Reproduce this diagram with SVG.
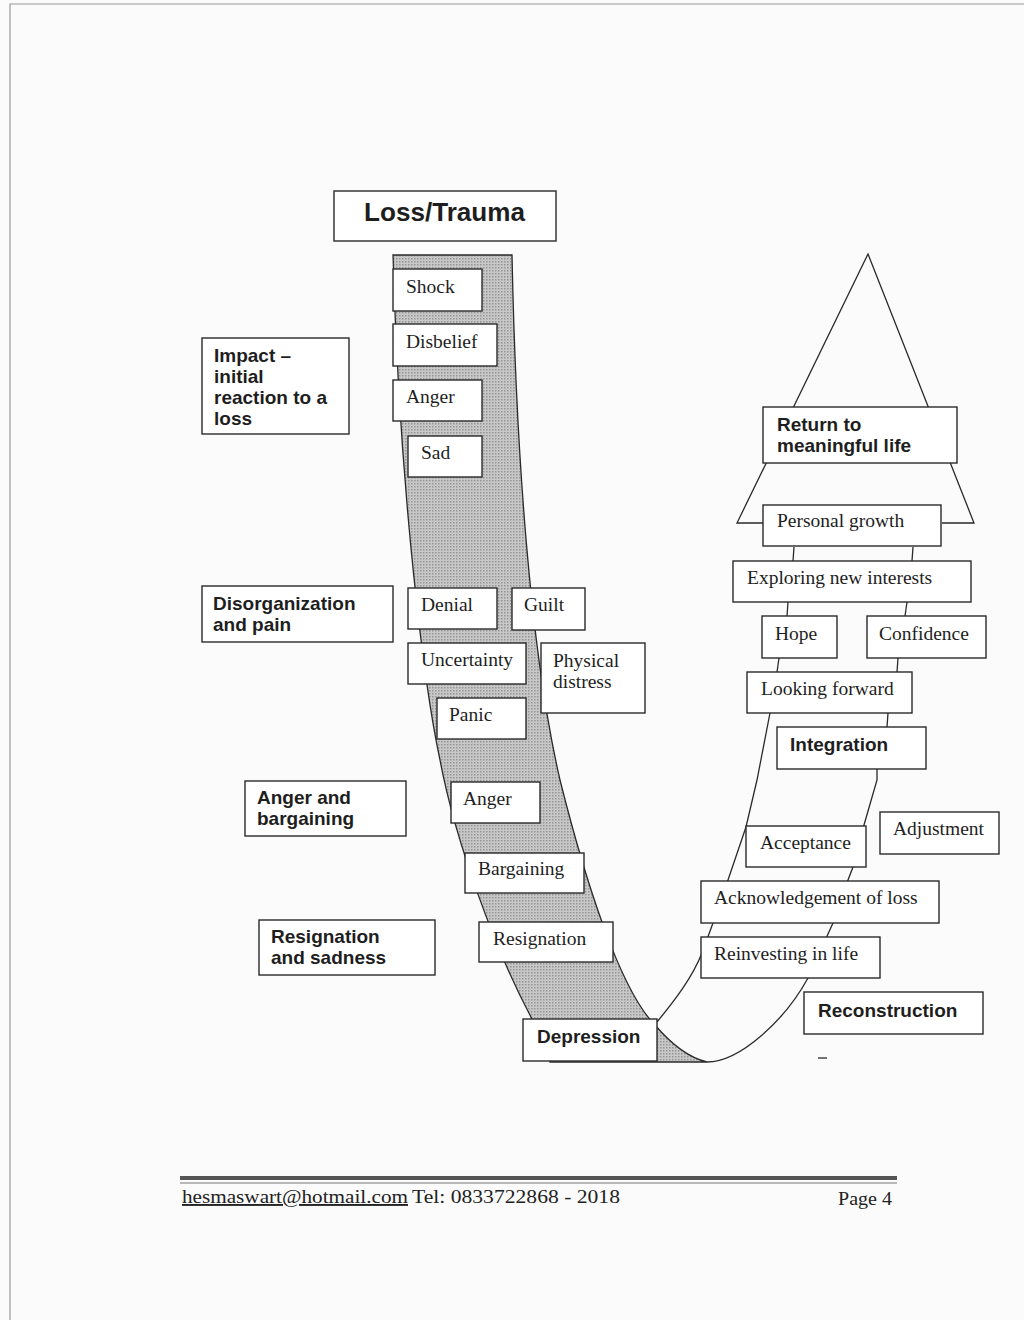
<svg xmlns="http://www.w3.org/2000/svg" width="1024" height="1320" viewBox="0 0 1024 1320">
<style>
.bx{fill:#fff;stroke:#2a2a2a;stroke-width:1.4}
.ln{fill:none;stroke:#2a2a2a;stroke-width:1.3}
.sr{font-family:"Liberation Serif","Times New Roman",serif;font-size:19.5px;fill:#1e1e1e}
.sb{font-family:"Liberation Sans",Arial,sans-serif;font-size:19px;font-weight:bold;fill:#1e1e1e}
.ft{font-family:"Liberation Serif","Times New Roman",serif;font-size:19px;fill:#222}
</style>
<defs>
<pattern id="dots" width="3" height="3" patternUnits="userSpaceOnUse">
<rect width="3" height="3" fill="#c8c8c8"/>
<rect width="1.5" height="1.5" fill="#949494"/>
</pattern>
</defs>
<rect width="1024" height="1320" fill="#fbfbfb"/>
<path d="M10,1320 L10,4 L1024,4" fill="none" stroke="#999" stroke-width="1.2"/>

<g id="connectors">
<path id="band" d="M393,255 L512,255 C516,450 530,650 560,780 C585,880 620,990 655,1025 C672,1045 690,1058 707,1062 L550,1062 L532,1019 C495,950 455,840 440,760 C425,690 400,500 393,255 Z" fill="url(#dots)" stroke="#2a2a2a" stroke-width="1.3"/>
<path class="ln" d="M657,1022 C675,1000 692,978 702,953 L713,923 L728,880 L746,827 L757,780 L770,713 L777,672 L779,658 L787,616 L788,602 L793,561 L794,547"/>
<path class="ln" d="M707,1062 C740,1062 785,1020 808,978 L833,923 L848,880 L853,867 L864,825 L877,780 L877,769 L887,727 L888,713 L897,672 L898,658 L905,616 L907,602 L912,561 L913,547"/>
<path class="ln" d="M763,523 L737,523 L868,254 L974,523 L942,523"/>
<line x1="818" y1="1058" x2="827" y2="1058" stroke="#444" stroke-width="1.5"/>
</g>

<g id="loss-trauma"><rect class="bx" x="334" y="191" width="222" height="50"/><text class="sb" x="364" y="221" style="font-size:25px" textLength="161" lengthAdjust="spacingAndGlyphs">Loss/Trauma</text></g>
<g id="impact"><rect class="bx" x="202" y="338" width="147" height="96"/><text class="sb" x="214" y="362">Impact –</text><text class="sb" x="214" y="383">initial</text><text class="sb" x="214" y="404">reaction to a</text><text class="sb" x="214" y="425">loss</text></g>
<g id="disorganization"><rect class="bx" x="202" y="586" width="191" height="56"/><text class="sb" x="213" y="610">Disorganization</text><text class="sb" x="213" y="631">and pain</text></g>
<g id="anger-bargaining"><rect class="bx" x="245" y="781" width="161" height="55"/><text class="sb" x="257" y="804">Anger and</text><text class="sb" x="257" y="825">bargaining</text></g>
<g id="resignation-sadness"><rect class="bx" x="259" y="920" width="176" height="55"/><text class="sb" x="271" y="943">Resignation</text><text class="sb" x="271" y="964">and sadness</text></g>

<g id="shock"><rect class="bx" x="393" y="269" width="89" height="42"/><text class="sr" x="406" y="293">Shock</text></g>
<g id="disbelief"><rect class="bx" x="393" y="324" width="104" height="42"/><text class="sr" x="406" y="348">Disbelief</text></g>
<g id="anger1"><rect class="bx" x="393" y="380" width="89" height="41"/><text class="sr" x="406" y="403">Anger</text></g>
<g id="sad"><rect class="bx" x="408" y="436" width="74" height="41"/><text class="sr" x="421" y="459">Sad</text></g>
<g id="denial"><rect class="bx" x="408" y="588" width="89" height="41"/><text class="sr" x="421" y="611">Denial</text></g>
<g id="guilt"><rect class="bx" x="512" y="588" width="73" height="42"/><text class="sr" x="524" y="611">Guilt</text></g>
<g id="uncertainty"><rect class="bx" x="408" y="643" width="118" height="41"/><text class="sr" x="421" y="666">Uncertainty</text></g>
<g id="physical-distress"><rect class="bx" x="541" y="643" width="104" height="70"/><text class="sr" x="553" y="667">Physical</text><text class="sr" x="553" y="688">distress</text></g>
<g id="panic"><rect class="bx" x="437" y="698" width="89" height="41"/><text class="sr" x="449" y="721">Panic</text></g>
<g id="anger2"><rect class="bx" x="451" y="782" width="89" height="41"/><text class="sr" x="463" y="805">Anger</text></g>
<g id="bargaining"><rect class="bx" x="465" y="853" width="119" height="40"/><text class="sr" x="478" y="875">Bargaining</text></g>
<g id="resignation"><rect class="bx" x="479" y="922" width="134" height="40"/><text class="sr" x="493" y="945">Resignation</text></g>
<g id="depression"><rect class="bx" x="523" y="1019" width="134" height="42"/><text class="sb" x="537" y="1043">Depression</text></g>

<g id="return"><rect class="bx" x="763" y="407" width="194" height="56"/><text class="sb" x="777" y="431">Return to</text><text class="sb" x="777" y="452">meaningful life</text></g>
<g id="personal-growth"><rect class="bx" x="763" y="505" width="178" height="41"/><text class="sr" x="777" y="527">Personal growth</text></g>
<g id="exploring"><rect class="bx" x="733" y="561" width="238" height="41"/><text class="sr" x="747" y="584">Exploring new interests</text></g>
<g id="hope"><rect class="bx" x="762" y="616" width="75" height="42"/><text class="sr" x="775" y="640">Hope</text></g>
<g id="confidence"><rect class="bx" x="867" y="616" width="119" height="42"/><text class="sr" x="879" y="640">Confidence</text></g>
<g id="looking-forward"><rect class="bx" x="747" y="672" width="165" height="41"/><text class="sr" x="761" y="695">Looking forward</text></g>
<g id="integration"><rect class="bx" x="777" y="727" width="149" height="42"/><text class="sb" x="790" y="751">Integration</text></g>
<g id="acceptance"><rect class="bx" x="746" y="826" width="120" height="41"/><text class="sr" x="760" y="849">Acceptance</text></g>
<g id="adjustment"><rect class="bx" x="880" y="812" width="119" height="42"/><text class="sr" x="893" y="835">Adjustment</text></g>
<g id="acknowledgement"><rect class="bx" x="701" y="881" width="238" height="42"/><text class="sr" x="714" y="904">Acknowledgement of loss</text></g>
<g id="reinvesting"><rect class="bx" x="701" y="937" width="179" height="41"/><text class="sr" x="714" y="960">Reinvesting in life</text></g>
<g id="reconstruction"><rect class="bx" x="804" y="992" width="179" height="42"/><text class="sb" x="818" y="1017">Reconstruction</text></g>

<g id="footer">
<rect x="180" y="1176" width="717" height="4" fill="#555"/>
<line x1="180" y1="1183" x2="897" y2="1183" stroke="#777" stroke-width="1"/>
<text class="ft" x="182" y="1203" textLength="226" lengthAdjust="spacingAndGlyphs" text-decoration="underline">hesmaswart@hotmail.com</text>
<text class="ft" x="412" y="1203" textLength="208" lengthAdjust="spacingAndGlyphs">Tel: 0833722868  - 2018</text>
<text class="ft" x="838" y="1205" textLength="54" lengthAdjust="spacingAndGlyphs">Page 4</text>
</g>
</svg>
